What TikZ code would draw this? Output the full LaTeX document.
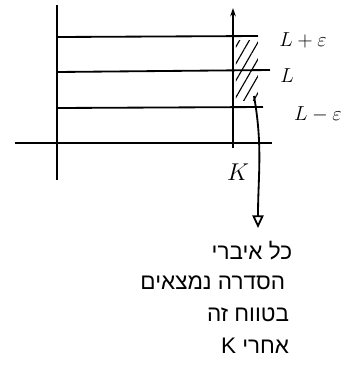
\documentclass[tikz,border=0pt]{standalone}
\usepackage{fontspec}
\newfontfamily\hebfont[Script=Hebrew]{Liberation Sans}
\TeXXeTstate=1
\usetikzlibrary{arrows.meta,patterns.meta}
\begin{document}
\begin{tikzpicture}[x=0.025cm,y=-0.025cm,line width=1.3pt,
  lbl/.style={font=\Large,inner sep=1pt},
  heb/.style={font=\hebfont\fontsize{16}{19}\selectfont,anchor=east,inner sep=0pt}]
\useasboundingbox (0,0) rectangle (358,371);
% band after K
\fill[pattern={Lines[angle=60,distance=6pt,line width=0.8pt]}] (236,40) rectangle (258,100);
% axes
\draw (15,143) -- (272,143);
\draw (57,5) -- (57,180);
\draw[-{Stealth[length=6pt,width=4pt]}] (233,148) -- (233,8);
% levels
\draw (57,37) -- (258,36);
\draw (57,72) -- (270,70);
\draw (57,108) -- (263,107);
\node[lbl] (Lp) at (303,40) {$L+\varepsilon$};
\node[lbl] (L) at (287,76) {$L$};
\node[lbl] (Lm) at (318,114) {$L-\varepsilon$};
\node[lbl,font=\LARGE] (K) at (238,172) {$K$};
% arrow down to the text
\coordinate (hatch) at (254,96);
\coordinate (tip) at (258,228);
\draw[-{Triangle[open,length=9pt,width=8pt]}] (hatch) to[out=-80,in=90] (tip);
\node[heb] (t1) at (293,251) {\beginR כל איברי\endR};
\node[heb] (t2) at (286,283) {\beginR הסדרה נמצאים\endR};
\node[heb] (t3) at (290,315) {\beginR בטווח זה\endR};
\node[heb] (t4) at (290,346) {\beginR אחרי \beginL K\endL\endR};
\end{tikzpicture}
\end{document}
